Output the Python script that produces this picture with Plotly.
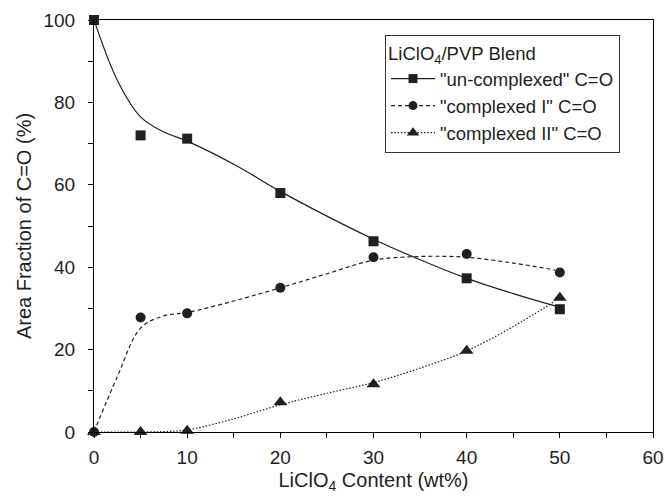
import plotly.graph_objects as go

# measured data points
x_pts = [0, 5, 10, 20, 30, 40, 50]
uncomplexed = [100, 72.0, 71.2, 58.0, 46.3, 37.3, 29.8]
complexed1 = [0, 27.8, 28.8, 35.0, 42.4, 43.2, 38.7]
complexed2 = [0, 0, 0.3, 7.2, 11.6, 19.7, 32.6]

# smooth guide curves
x_fit = [0, 2.5, 5, 7.5, 10, 15, 20, 25, 30, 35, 40, 45, 49.5]
uncomplexed_fit = [100, 85.4, 76.5, 72.8, 70.6, 65.0, 58.4, 52.4, 46.8, 41.8, 37.3, 33.6, 30.6]
complexed1_fit = [0, 13.4, 25.2, 28.2, 29.0, 31.8, 35.0, 38.4, 41.7, 42.6, 42.4, 41.0, 39.3]
complexed2_fit = [0, 0, 0, 0.1, 0.5, 3.2, 6.6, 9.4, 12.0, 15.5, 19.7, 25.6, 31.8]

labels = ['"un-complexed" C=O', '"complexed I" C=O', '"complexed II" C=O']
symbols = ["square", "circle", "triangle-up"]
dashes = ["solid", "4px,3px", "1.5px,1.8px"]
sizes = [10, 10, 12]
ink = "#231f20"

fig = go.Figure()
for ys, yf, lab, sym, dsh, sz in zip(
    [uncomplexed, complexed1, complexed2],
    [uncomplexed_fit, complexed1_fit, complexed2_fit],
    labels, symbols, dashes, sizes):
    fig.add_trace(go.Scatter(x=x_fit, y=yf, mode="lines", line_shape="spline",
                             line=dict(color=ink, width=1.2, dash=dsh),
                             showlegend=False, hoverinfo="skip"))
    fig.add_trace(go.Scatter(x=x_pts, y=ys, mode="markers",
                             marker=dict(symbol=sym, size=sz, color=ink),
                             showlegend=False, cliponaxis=False))
    fig.add_trace(go.Scatter(x=[None], y=[None], mode="lines+markers", name=lab,
                             line=dict(color=ink, width=1.2, dash=dsh),
                             marker=dict(symbol=sym, size=sz - 1, color=ink)))

axis_common = dict(showline=True, linecolor="black", linewidth=1, mirror=True,
                   ticks="outside", ticklen=5, tickwidth=1, tickcolor="black",
                   showgrid=False, zeroline=False, automargin=False,
                   tickfont=dict(size=19, color=ink))

fig.update_layout(
    width=665, height=496,
    margin=dict(l=94, r=12, t=20, b=64),
    paper_bgcolor="white", plot_bgcolor="white",
    font=dict(family="Liberation Sans, Arial, sans-serif", color=ink),
    xaxis=dict(range=[0, 60], tickvals=[0, 10, 20, 30, 40, 50, 60],
               minor=dict(tickvals=[5, 15, 25, 35, 45, 55], ticks="outside",
                          ticklen=5, tickcolor="black"),
               ticklabelstandoff=3,
               title=dict(text="LiClO<sub>4</sub> Content (wt%)", font=dict(size=20), standoff=6),
               **axis_common),
    yaxis=dict(range=[0, 100], tickvals=[0, 20, 40, 60, 80, 100],
               minor=dict(tickvals=[10, 30, 50, 70, 90], ticks="outside",
                          ticklen=5, tickcolor="black"),
               ticklabelstandoff=9,
               title=dict(text="Area Fraction of C=O (%)", font=dict(size=20), standoff=6),
               **axis_common),
    legend=dict(x=0.5206, y=0.9636, xanchor="left", yanchor="top",
                bordercolor="#333", borderwidth=1, bgcolor="white",
                title=dict(text="LiClO<sub>4</sub>/PVP Blend", font=dict(size=18.5)),
                font=dict(size=18.5), tracegroupgap=0, itemwidth=44),
)

fig.write_html("out.html")
